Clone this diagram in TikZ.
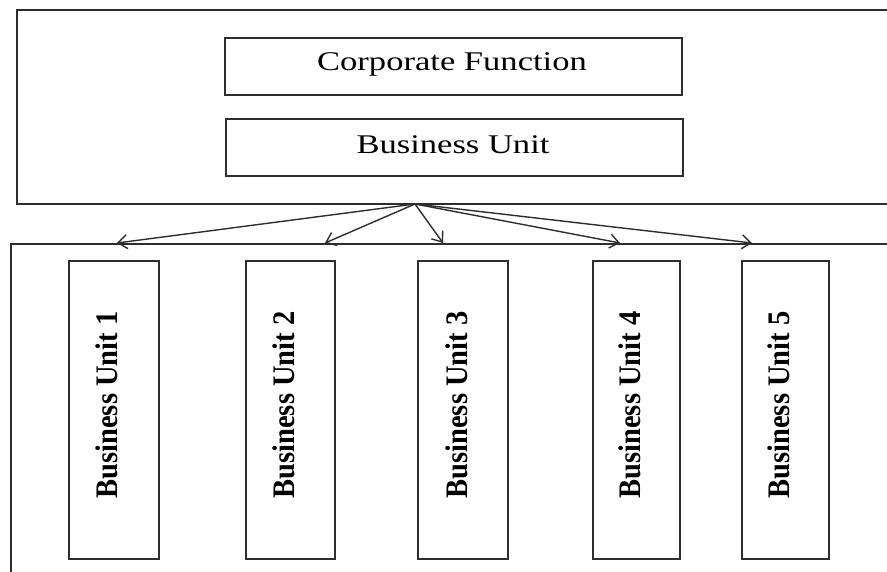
\documentclass[tikz,border=0pt]{standalone}
\usepackage{fontspec}
\setmainfont{Liberation Serif}
\usetikzlibrary{arrows.meta}
\definecolor{ln}{HTML}{2E2E2E}
\begin{document}
\begin{tikzpicture}[x=1pt,y=-1pt,
  frame/.style={draw=ln,line width=1.7pt,fill=none,inner sep=0pt,anchor=north west},
  hbox/.style={draw=ln,line width=1.7pt,inner sep=0pt,anchor=north west},
  htext/.style={font=\fontsize{27}{30}\selectfont,inner sep=0pt},
  vbox/.style={draw=ln,line width=1.7pt,inner sep=0pt,anchor=north west,minimum height=298pt},
  vtext/.style={font=\fontsize{28.5}{30}\selectfont\bfseries,rotate=90,inner sep=0pt},
  conn/.style={draw=ln,line width=1.4pt,-{Straight Barb[length=9pt,width=14pt,line width=1.4pt]}}]
\useasboundingbox (0,0) rectangle (887,572);
\fill[white] (0,0) rectangle (887,572);
% outer frames
\node[frame,minimum width=890pt,minimum height=194pt] (top) at (16,9) {};
\node[frame,minimum width=900pt,minimum height=360pt] (bottom) at (10,243) {};
% top inner boxes
\node[hbox,minimum width=457pt,minimum height=57pt] (cf) at (224,37) {};
\node[htext] (cft) at (452,64) {\scalebox{1.28}[1]{Corporate Function}};
\node[hbox,minimum width=457pt,minimum height=57pt] (bu) at (225,118) {};
\node[htext] (but) at (453,145) {\scalebox{1.28}[1]{Business Unit}};
% vertical boxes
\node[vbox,minimum width=90pt] (b1) at (68,260) {};
\node[vbox,minimum width=89pt] (b2) at (245,260) {};
\node[vbox,minimum width=90pt] (b3) at (417,260) {};
\node[vbox,minimum width=87pt] (b4) at (592,260) {};
\node[vbox,minimum width=87pt] (b5) at (741,260) {};
\node[vtext] (l1) at (107,405) {\scalebox{1}[1.1]{Business Unit 1}};
\node[vtext] (l2) at (284,405) {\scalebox{1}[1.1]{Business Unit 2}};
\node[vtext] (l3) at (457,405) {\scalebox{1}[1.1]{Business Unit 3}};
\node[vtext] (l4) at (630,405) {\scalebox{1}[1.1]{Business Unit 4}};
\node[vtext] (l5) at (779,405) {\scalebox{1}[1.1]{Business Unit 5}};
% arrows
\coordinate (o) at (415,204);
\coordinate (t1) at (117,243);
\coordinate (t2) at (325,243);
\coordinate (t3) at (443,243);
\coordinate (t4) at (620,243);
\coordinate (t5) at (752,243);
\foreach \t in {t1,t2,t3,t4,t5} \draw[conn] (o) -- (\t);
\end{tikzpicture}
\end{document}
